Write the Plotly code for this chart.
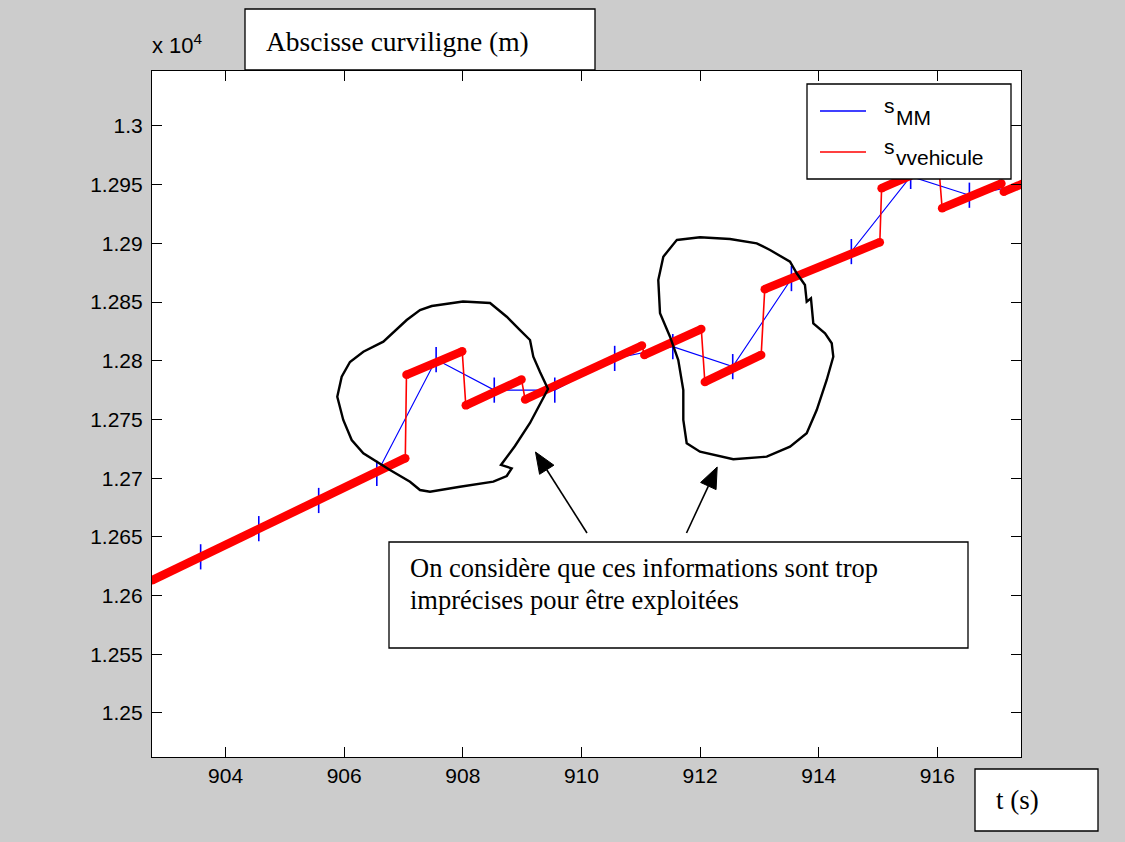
import math
import plotly.graph_objects as go

# Vehicle odometry: straight runs between resets (start/end time and abscissa of each run)
veh_t_start = [902.76, 907.05, 908.05, 909.05, 911.06, 912.08, 913.09, 915.06, 916.08, 917.12]
veh_s_start = [12613, 12788, 12762, 12767, 12805, 12782, 12861, 12947, 12930, 12944]
veh_t_end = [907.03, 907.99, 908.99, 911.02, 912.02, 913.03, 915.03, 916.02, 917.08, 917.45]
veh_s_end = [12717, 12808, 12784, 12813, 12827, 12805, 12901, 12968, 12951, 12951]

# Map-matched abscissa, one fix per second
mm_t = [902.56, 903.58, 904.56, 905.57, 906.55, 907.55, 908.53, 909.55, 910.56,
        911.54, 912.55, 913.54, 914.55, 915.55, 916.54, 917.55]
mm_s = [12609, 12633, 12657, 12681, 12704, 12801, 12775, 12775, 12802,
        12812, 12795, 12870, 12893, 12957, 12941, 12951]

x_ticks = [904, 906, 908, 910, 912, 914, 916]
y_ticks = [12500, 12550, 12600, 12650, 12700, 12750, 12800, 12850, 12900, 12950, 13000]
y_tick_text = ["1.25", "1.255", "1.26", "1.265", "1.27", "1.275", "1.28", "1.285", "1.29", "1.295", "1.3"]

x_range = [902.76, 917.41]
y_range = [12462.5, 13046.8]

# Figure geometry (pixels)
W, H = 1125, 842
L, R, T, B = 152, 1021, 71, 757


def fx(px):
    return (px - L) / (R - L)


def fy(py):
    return (B - py) / (B - T)


SANS = "Liberation Sans, Arial, Helvetica, sans-serif"
SERIF = "Liberation Serif, Times New Roman, serif"

# Continuous vehicle path (runs plus the vertical resets) and the runs alone
path_t, path_s = [], []
run_t, run_s = [], []
for t0, s0, t1, s1 in zip(veh_t_start, veh_s_start, veh_t_end, veh_s_end):
    path_t += [t0, t1]
    path_s += [s0, s1]
    run_t += [t0, t1, None]
    run_s += [s0, s1, None]

fig = go.Figure()
fig.add_trace(go.Scatter(
    x=mm_t, y=mm_s, mode="lines+markers", name="s_MM",
    line=dict(color="#0000ff", width=1.1),
    marker=dict(symbol="line-ns", size=18, line=dict(color="#0000ff", width=1.6)),
    showlegend=False,
))
fig.add_trace(go.Scatter(
    x=path_t, y=path_s, mode="lines", name="s_vvehicule",
    line=dict(color="#ff0000", width=1.6), showlegend=False,
))
fig.add_trace(go.Scatter(
    x=run_t, y=run_s, mode="lines+markers",
    line=dict(color="#ff0000", width=8.5),
    marker=dict(color="#ff0000", size=8.5),
    showlegend=False, hoverinfo="skip",
))

shapes = []


def poly_path(points, closed=True):
    d = "M " + " L ".join(f"{fx(x):.4f},{fy(y):.4f}" for x, y in points)
    return d + (" Z" if closed else "")


def loop_shape(points):
    return dict(type="path", path=poly_path(points), xref="paper", yref="paper",
                line=dict(color="black", width=2.4), layer="above")


# Hand-drawn circles around the rejected stretches
loop_a = [(431.7, 306), (463, 301.5), (490, 303), (506.7, 316.7), (520, 330), (530, 340),
          (533.3, 356.7), (540, 372), (548, 389), (530, 423), (515, 446), (501, 465),
          (511.7, 468.3), (506.7, 476), (493.3, 481.7), (460, 486.7), (430, 491.7),
          (420, 490), (410, 481.7), (390, 470), (363.3, 453.3), (351.7, 440),
          (343.3, 420), (337.3, 396.7), (341.7, 376.7), (350, 362), (363.3, 351.7),
          (383.3, 341.7), (406.7, 320), (420, 310)]
loop_b = [(676.7, 240), (700, 237.3), (730, 239), (756.7, 243.3), (770, 250), (790, 261.7),
          (796.7, 273.3), (805, 285), (806.7, 301.7), (811, 298.3), (813.3, 323.3),
          (825, 333.3), (831.7, 343.3), (833.3, 356.7), (826.7, 380), (816.7, 410),
          (806.7, 433.3), (790, 446.7), (766.7, 456.7), (733.3, 459.3), (700, 451.7),
          (686.7, 443.3), (683.3, 420), (683.3, 390), (678.3, 360), (670, 336.7),
          (660, 313.3), (658.3, 280), (663.3, 256.7)]
shapes.append(loop_shape(loop_a))
shapes.append(loop_shape(loop_b))


def box(x0, y0, x1, y1):
    return dict(type="rect", xref="paper", yref="paper",
                x0=fx(x0), x1=fx(x1), y0=fy(y1), y1=fy(y0),
                fillcolor="white", line=dict(color="black", width=1.3), layer="above")


shapes.append(box(245, 9, 595, 70))      # y-axis title box
shapes.append(box(975, 769, 1098, 831))  # x-axis title box
shapes.append(box(389, 542, 968, 648))   # comment box
shapes.append(box(807, 84, 1011, 179))   # legend box

# Legend samples
for y_px, col in [(111, "#0000ff"), (152, "#ff0000")]:
    shapes.append(dict(type="line", xref="paper", yref="paper",
                       x0=fx(820), x1=fx(866), y0=fy(y_px), y1=fy(y_px),
                       line=dict(color=col, width=1.3), layer="above"))


# Arrows from the comment box to the circled stretches: shaft plus filled head
def arrow(tail, tip, head_len=21, head_half=8.5):
    (x0, y0), (x1, y1) = tail, tip
    dx, dy = x1 - x0, y1 - y0
    n = math.hypot(dx, dy)
    ux, uy = dx / n, dy / n
    bx, by = x1 - ux * head_len, y1 - uy * head_len
    px, py = -uy, ux
    left = (bx + px * head_half, by + py * head_half)
    right = (bx - px * head_half, by - py * head_half)
    shaft = dict(type="line", xref="paper", yref="paper",
                 x0=fx(x0), y0=fy(y0), x1=fx(bx), y1=fy(by),
                 line=dict(color="black", width=1.6), layer="above")
    head = dict(type="path", path=poly_path([tip, left, right]), xref="paper", yref="paper",
                fillcolor="black", line=dict(color="black", width=1), layer="above")
    return [shaft, head]


shapes += arrow((587, 533), (535.5, 452))
shapes += arrow((686.5, 533), (717.2, 467))

annotations = []


def label(text, x_px, y_px, size, family, xanchor="left"):
    annotations.append(dict(text=text, x=fx(x_px), y=fy(y_px), xref="paper", yref="paper",
                            xanchor=xanchor, yanchor="middle", showarrow=False,
                            font=dict(family=family, size=size, color="black")))


label("Abscisse curviligne (m)", 264, 42, 27.5, SERIF)
label("t (s)", 994, 800, 27, SERIF)
label("On considère que ces informations sont trop", 408, 568, 26.5, SERIF)
label("imprécises pour être exploitées", 408, 600, 26.5, SERIF)
label("x 10<sup>4</sup>", 150, 44, 22, SANS)

# Legend entries: symbol "s" with its subscript set slightly lower
label("s", 882, 106, 21, SANS)
label("MM", 894, 118, 21, SANS)
label("s", 882, 146, 21, SANS)
label("vvehicule", 894, 157, 21, SANS)

fig.update_layout(
    width=W, height=H,
    margin=dict(l=L, r=W - R, t=T, b=H - B),
    paper_bgcolor="#cccccc", plot_bgcolor="white",
    shapes=shapes, annotations=annotations,
    showlegend=False,
    xaxis=dict(range=x_range, tickvals=x_ticks, ticks="inside", ticklen=10,
               tickcolor="black", tickwidth=1, showline=True, linecolor="black",
               linewidth=1.2, mirror="allticks", showgrid=False, zeroline=False,
               tickfont=dict(family=SANS, size=21, color="black")),
    yaxis=dict(range=y_range, tickvals=y_ticks, ticktext=y_tick_text, ticks="inside",
               ticklen=10, tickcolor="black", tickwidth=1, showline=True,
               linecolor="black", linewidth=1.2, mirror="allticks", showgrid=False,
               zeroline=False, ticklabelstandoff=4,
               tickfont=dict(family=SANS, size=21, color="black")),
)

fig.write_html("out.html")
